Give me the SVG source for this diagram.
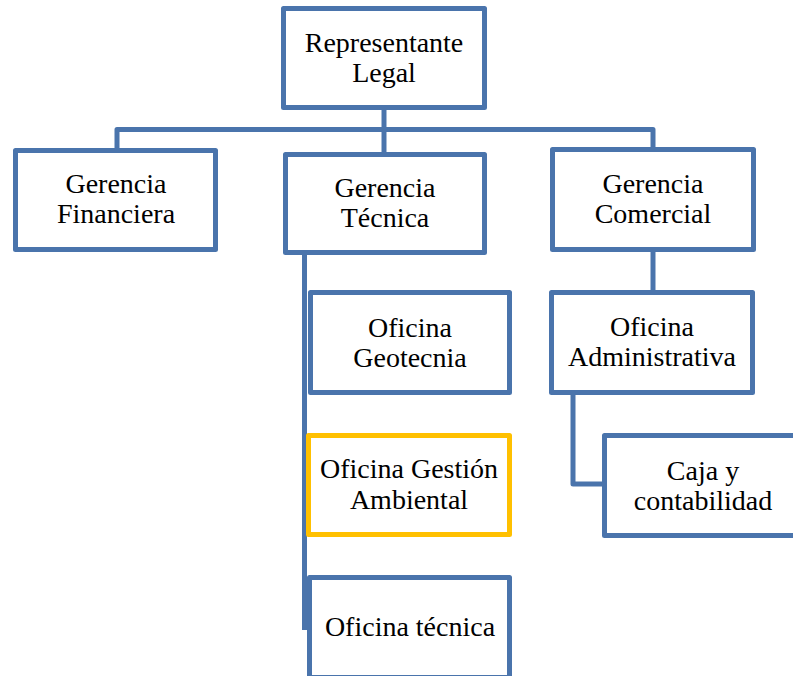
<svg xmlns="http://www.w3.org/2000/svg" width="793" height="676" viewBox="0 0 793 676">
<style>
.box{fill:#fff;stroke:#4A74AC;stroke-width:5;stroke-linejoin:round}
.hl{fill:#fff;stroke:#FFC000;stroke-width:5;stroke-linejoin:round}
.c{fill:none;stroke:#4A74AC;stroke-width:5;stroke-linejoin:round}
text{font-family:"Liberation Serif","Times New Roman",serif;font-size:28px;fill:#000;text-anchor:middle}
</style>
<rect width="793" height="676" fill="#fff"/>
<g id="connectors">
<path class="c" d="M117 148 V129.5 H653 V147"/>
<path class="c" d="M384 110 V152"/>
<path class="c" d="M653 252 V290"/>
<path class="c" d="M304.5 255 V630"/>
<path class="c" d="M573 395 V484 H602"/>
</g>
<g id="representante-legal">
<rect class="box" x="283.5" y="8.5" width="201" height="99"/>
<text x="384" y="52">Representante</text>
<text x="384" y="82">Legal</text>
</g>
<g id="gerencia-financiera">
<rect class="box" x="15.5" y="150.5" width="200" height="99"/>
<text x="116" y="193">Gerencia</text>
<text x="116" y="223">Financiera</text>
</g>
<g id="gerencia-tecnica">
<rect class="box" x="285.5" y="154.5" width="199" height="98"/>
<text x="385" y="197">Gerencia</text>
<text x="385" y="227">Técnica</text>
</g>
<g id="gerencia-comercial">
<rect class="box" x="552.5" y="149.5" width="201" height="100"/>
<text x="653" y="193">Gerencia</text>
<text x="653" y="223">Comercial</text>
</g>
<g id="oficina-geotecnia">
<rect class="box" x="310.5" y="292.5" width="199" height="100"/>
<text x="410" y="337">Oficina</text>
<text x="410" y="367">Geotecnia</text>
</g>
<g id="oficina-gestion-ambiental">
<rect class="hl" x="308.5" y="435.5" width="201" height="99"/>
<text x="409" y="478">Oficina Gestión</text>
<text x="409" y="509">Ambiental</text>
</g>
<g id="oficina-tecnica">
<rect class="box" x="309.5" y="577.5" width="200" height="100"/>
<text x="410" y="636">Oficina técnica</text>
</g>
<g id="oficina-administrativa">
<rect class="box" x="551.5" y="292.5" width="201" height="100"/>
<text x="652" y="336">Oficina</text>
<text x="652" y="366">Administrativa</text>
</g>
<g id="caja-contabilidad">
<rect class="box" x="604.5" y="435.5" width="200" height="100"/>
<text x="703" y="480">Caja y</text>
<text x="703" y="510">contabilidad</text>
</g>
</svg>
